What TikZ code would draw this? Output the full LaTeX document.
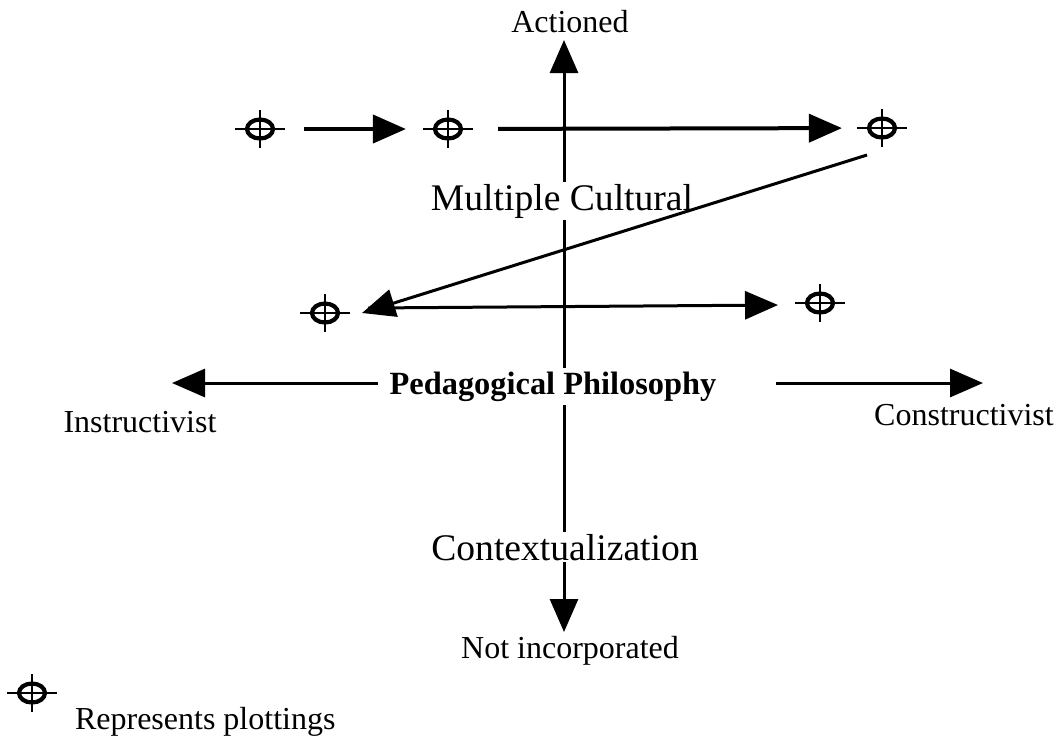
\documentclass[tikz,border=0pt]{standalone}
\usepackage{fontspec}
\setmainfont{Liberation Serif}
\usetikzlibrary{arrows.meta,shapes.geometric}
\newcommand\plotsym[2]{%
  \node[plotc] (#1) at (#2) {};
  \draw[cross] (#1.center) +(-25,0) -- +(25,0) (#1.center) +(0,-19) -- +(0,19);
}
\begin{document}
\begin{tikzpicture}[x=0.5pt,y=-0.5pt,
  axis/.style={line width=1.5pt},
  data/.style={line width=2pt},
  tip/.style={-{Triangle[length=16.5pt,width=14pt]}},
  plotc/.style={ellipse,draw,line width=2.1pt,minimum width=13pt,minimum height=9.5pt,inner sep=0pt},
  cross/.style={line width=1.4pt},
  big/.style={font=\fontsize{18.8}{22}\selectfont, fill=white, inner xsep=2pt, inner ysep=1pt},
  small/.style={font=\fontsize{16}{19}\selectfont},
  ped/.style={font=\fontsize{16.2}{19}\selectfont\bfseries, fill=white, inner xsep=3pt, inner ysep=2pt},
]
\useasboundingbox (0,0) rectangle (1064,736);

% axes
\coordinate (vtop) at (564,40);
\coordinate (vbot) at (564,632);
\draw[axis,{Triangle[length=16.5pt,width=14pt]}-{Triangle[length=16.5pt,width=14pt]}] (vbot) -- (vtop);

\coordinate (hl0) at (378,383);
\coordinate (hl1) at (172,383);
\coordinate (hr0) at (776,383);
\coordinate (hr1) at (983,383);
\draw[axis,tip] (hl0) -- (hl1);
\draw[axis,tip] (hr0) -- (hr1);

% labels
\node[small,anchor=base] (act) at (570,32) {Actioned};
\node[small,anchor=base] (notinc) at (570,658) {Not incorporated};
\node[big,anchor=base] (mc) at (562,210) {Multiple Cultural};
\node[big,anchor=base] (ctx) at (565,560) {Contextualization};
\node[ped,anchor=base] (pp) at (553,394) {Pedagogical Philosophy};
\node[small,anchor=base] (ins) at (140,432) {Instructivist};
\node[small,anchor=base] (cons) at (964,425) {Constructivist};

% plottings
\plotsym{p1}{260,129}
\plotsym{p2}{448,129}
\plotsym{p3}{882,128}
\plotsym{p4}{325,313}
\plotsym{p5}{820,303}

\draw[data,tip,shorten <=14.5pt,shorten >=13.5pt] (p1) -- (p2);
\draw[data,tip,shorten <=17.5pt,shorten >=12.5pt] (p2) -- (p3);

\coordinate (d1) at (867,155);
\coordinate (d2) at (362,313);
\draw[axis,tip] (d1) -- (d2);

\coordinate (h1) at (368,308);
\coordinate (h2) at (778,305);
\draw[axis,tip] (h1) -- (h2);

% legend
\plotsym{leg}{32,693}
\node[small,anchor=base west] (legt) at (68,729) {Represents plottings};
\end{tikzpicture}
\end{document}
